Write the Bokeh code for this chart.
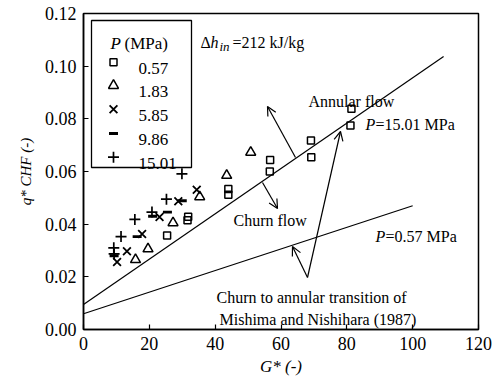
from bokeh.plotting import figure
from bokeh.models import (Range1d, Label, Arrow, OpenHead, FixedTicker, ColumnDataSource,
                          NumeralTickFormatter)
from bokeh.embed import file_html
from bokeh.resources import INLINE

# ---- data (G*, q*_CHF) per pressure ----
pressures = ["0.57", "1.83", "5.85", "9.86", "15.01"]

g_057 = [25.4, 31.6, 31.8, 44.0, 44.0, 56.7, 56.6, 69.1, 69.2, 81.1, 81.4]
q_057 = [0.0357, 0.0415, 0.0428, 0.0534, 0.0512, 0.0644, 0.0600, 0.0718, 0.0654, 0.0775, 0.0838]

g_183 = [15.8, 19.6, 27.2, 35.3, 43.5, 50.8]
q_183 = [0.0265, 0.0306, 0.0405, 0.0504, 0.0585, 0.0673]

g_585 = [10.2, 13.2, 17.8, 23.1, 28.8, 34.4]
q_585 = [0.0256, 0.0297, 0.0363, 0.0427, 0.0487, 0.0531]

g_986 = [9.3, 16.3, 21.0, 25.5, 30.0]
q_986 = [0.0280, 0.0353, 0.0430, 0.0446, 0.0489]

g_1501 = [9.2, 9.3, 11.4, 15.6, 20.8, 25.2, 29.9]
q_1501 = [0.0310, 0.0287, 0.0353, 0.0418, 0.0446, 0.0495, 0.0591]

# Mishima & Nishihara churn-to-annular transition lines
g_line_1501 = [0.0, 109.4]
q_line_1501 = [0.0095, 0.1037]
g_line_057 = [0.0, 100.0]
q_line_057 = [0.0060, 0.0470]

x_ticks = [0, 20, 40, 60, 80, 100, 120]
y_ticks = [0.00, 0.02, 0.04, 0.06, 0.08, 0.10, 0.12]

FONT = "Liberation Serif"

# ---- figure ----
W, H = 495, 387
L, R, T, B = 83, 17, 13, 58
p = figure(width=W, height=H, output_backend="svg", toolbar_location=None,
           x_range=Range1d(0, 120), y_range=Range1d(0, 0.12),
           min_border_left=L, min_border_right=R, min_border_top=T, min_border_bottom=B)
p.background_fill_color = "white"
p.border_fill_color = "white"
p.xgrid.visible = False
p.ygrid.visible = False
p.outline_line_color = "black"
p.outline_line_width = 1.5
p.outline_line_alpha = 1.0

p.axis.axis_line_width = 1.5
p.axis.axis_line_color = "black"
p.axis.major_tick_in = 5
p.axis.major_tick_out = 0
p.axis.minor_tick_line_color = None
p.axis.major_tick_line_color = "black"
p.axis.major_tick_line_width = 1.2
p.axis.major_label_text_font = FONT
p.axis.major_label_text_font_size = "18px"
p.axis.major_label_text_color = "black"
p.axis.major_label_standoff = 7
p.axis.axis_label_text_font = FONT
p.axis.axis_label_text_font_style = "italic"
p.axis.axis_label_text_color = "black"

p.xaxis.ticker = FixedTicker(ticks=x_ticks)
p.yaxis.ticker = FixedTicker(ticks=y_ticks)
p.yaxis.formatter = NumeralTickFormatter(format="0.00")

p.xaxis.axis_label = "G* (-)"
p.xaxis.axis_label_text_font_size = "17px"
p.xaxis.axis_label_standoff = 4
p.yaxis.axis_label = "q* CHF (-)"
p.yaxis.axis_label_text_font_size = "15px"
p.yaxis.axis_label_text_line_height = 2.6
p.yaxis.axis_label_standoff = 8

# pixel -> data helpers for annotation placement
fw = W - L - R
fh = H - T - B
def gx(px):
    return (px - L) / fw * 120.0
def qy(py):
    return (H - B - py) / fh * 0.12

# ---- lines ----
p.line(g_line_1501, q_line_1501, line_color="black", line_width=1.2)
p.line(g_line_057, q_line_057, line_color="black", line_width=1.2)

# ---- legend box (manual, drawn first) ----
p.quad(left=[gx(91)], right=[gx(191)], top=[qy(20)], bottom=[qy(167)],
       fill_color="white", line_color="black", line_width=1.3)

# ---- data markers ----
series = [
    (g_057, q_057, "square", 7, 1.5),
    (g_183, q_183, "triangle", 10, 1.5),
    (g_585, q_585, "x", 11, 1.8),
    (g_986, q_986, "dash", 9, 2.8),
    (g_1501, q_1501, "cross", 11, 1.7),
]
for gs, qs, mk, sz, lw in series:
    p.scatter(gs, qs, marker=mk, size=sz, fill_color=None, line_color="black", line_width=lw)

row_y = [61.7, 85.0, 108.7, 133.0, 156.7]
for (gs, qs, mk, sz, lw), ry in zip(series, row_y):
    src = ColumnDataSource(dict(x=[gx(113)], y=[qy(ry)]))
    p.scatter("x", "y", source=src, marker=mk, size=sz, fill_color=None,
              line_color="black", line_width=lw)

def txt(px, py, s, size="16px", style="normal", angle=0.0):
    p.add_layout(Label(x=gx(px), y=qy(py), text=s, text_font=FONT, text_font_size=size,
                       text_font_style=style, text_baseline="alphabetic", text_align="left",
                       angle=angle, text_color="black"))

# legend texts
txt(110, 43, "P", size="17px", style="italic")
txt(124, 43, "(MPa)", size="17px")
for lab, ry in zip(pressures, row_y):
    txt(138, ry + 6, lab, size="17px")

txt(200, 42, "Δ")
txt(210, 42, "h", style="italic")
txt(219, 46, "in", size="13px", style="italic")
txt(232, 42, "=212 kJ/kg")

txt(308, 101, "Annular flow")
txt(365, 124, "P", style="italic")
txt(375, 124, "=15.01 MPa")
txt(233, 220, "Churn flow")
txt(375, 236, "P", style="italic")
txt(385, 236, "=0.57 MPa")
txt(216, 297, "Churn to annular transition of")
txt(219, 319, "Mishima and Nishihara (1987)")

# arrows
def arrow(x0, y0, x1, y1):
    p.add_layout(Arrow(end=OpenHead(size=9, line_width=1.2, line_color="black"),
                       x_start=gx(x0), y_start=qy(y0), x_end=gx(x1), y_end=qy(y1),
                       line_color="black", line_width=1.2))

arrow(295, 157, 267, 106)      # annular flow
arrow(262, 182, 277, 208)      # churn flow
arrow(307, 277, 340, 131)      # transition -> upper line
arrow(307, 277, 292, 246)      # transition -> lower line

open("out.html", "w").write(file_html(p, INLINE))
